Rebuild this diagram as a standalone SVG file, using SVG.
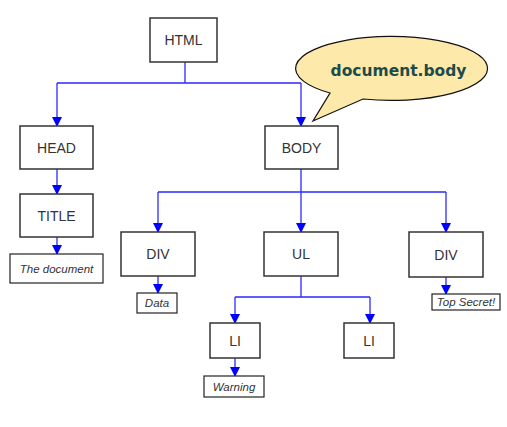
<svg xmlns="http://www.w3.org/2000/svg" width="507" height="427" viewBox="0 0 507 427">
<style>
.box{fill:#fff;stroke:#333;stroke-width:1.5}
.lbl{fill:#fff;stroke:#222;stroke-width:1.2}
.t{font-family:"Liberation Sans",Arial,sans-serif;font-size:14px;fill:#333;text-anchor:middle}
.i{font-family:"Liberation Sans",Arial,sans-serif;font-size:11.5px;font-style:italic;fill:#333;text-anchor:middle}
.c{fill:none;stroke:#2a2aff;stroke-width:1.3}
</style>
<defs>
<marker id="ah" markerUnits="userSpaceOnUse" markerWidth="10" markerHeight="11" viewBox="0 0 10 10" refX="9" refY="5" orient="auto">
<path d="M0,0 L10,5 L0,10 Z" fill="#0000ff"/>
</marker>
</defs>
<rect width="507" height="427" fill="#fff"/>
<g id="connectors">
<path class="c" d="M185,62 V83 M57,83 H301"/>
<path class="c" d="M57,83 V126" marker-end="url(#ah)"/>
<path class="c" d="M301,83 V126" marker-end="url(#ah)"/>
<path class="c" d="M57,169 V194" marker-end="url(#ah)"/>
<path class="c" d="M57,237 V254" marker-end="url(#ah)"/>
<path class="c" d="M301,169 V192 M158,192 H446"/>
<path class="c" d="M158,192 V232" marker-end="url(#ah)"/>
<path class="c" d="M301,192 V232" marker-end="url(#ah)"/>
<path class="c" d="M446,192 V232" marker-end="url(#ah)"/>
<path class="c" d="M158,276 V293" marker-end="url(#ah)"/>
<path class="c" d="M446,277 V294" marker-end="url(#ah)"/>
<path class="c" d="M301,276 V297 M235,297 H370"/>
<path class="c" d="M235,297 V323" marker-end="url(#ah)"/>
<path class="c" d="M370,297 V323" marker-end="url(#ah)"/>
<path class="c" d="M235,358 V376" marker-end="url(#ah)"/>
</g>
<g id="html"><rect class="box" x="150" y="18" width="67" height="44"/><text class="t" x="183.5" y="45">HTML</text></g>
<g id="head"><rect class="box" x="20" y="126" width="73" height="43"/><text class="t" x="56.5" y="152.5">HEAD</text></g>
<g id="title"><rect class="box" x="20" y="194" width="73" height="43"/><text class="t" x="56.5" y="220.5">TITLE</text></g>
<g id="thedocument"><rect class="lbl" x="10" y="254" width="93" height="29"/><text class="i" x="56.5" y="272.5">The document</text></g>
<g id="body"><rect class="box" x="265" y="126" width="73" height="43"/><text class="t" x="301.5" y="152.5">BODY</text></g>
<g id="div1"><rect class="box" x="121" y="232" width="74" height="44"/><text class="t" x="158" y="259">DIV</text></g>
<g id="data"><rect class="lbl" x="137" y="293" width="40" height="20"/><text class="i" x="157" y="307">Data</text></g>
<g id="ul"><rect class="box" x="264" y="232" width="74" height="44"/><text class="t" x="301" y="259">UL</text></g>
<g id="div2"><rect class="box" x="409" y="232" width="74" height="45"/><text class="t" x="446" y="259.5">DIV</text></g>
<g id="topsecret"><rect class="lbl" x="432" y="294" width="68" height="16"/><text class="i" x="466" y="306">Top Secret!</text></g>
<g id="li1"><rect class="box" x="210" y="323" width="50" height="35"/><text class="t" x="235" y="345.5">LI</text></g>
<g id="li2"><rect class="box" x="344" y="323" width="50" height="35"/><text class="t" x="369" y="345.5">LI</text></g>
<g id="warning"><rect class="lbl" x="204" y="376" width="60" height="21"/><text class="i" x="234" y="390.5">Warning</text></g>
<g id="callout">
<path d="M330,93 A96,32 0 1 1 363,99 L313,121 Z" fill="#fde9a9" stroke="#111" stroke-width="1.2"/>
<text x="398.5" y="75.5" font-family="'DejaVu Sans',Verdana,sans-serif" font-weight="bold" font-size="15.5" fill="#1d4b4b" text-anchor="middle">document.body</text>
</g>
</svg>
